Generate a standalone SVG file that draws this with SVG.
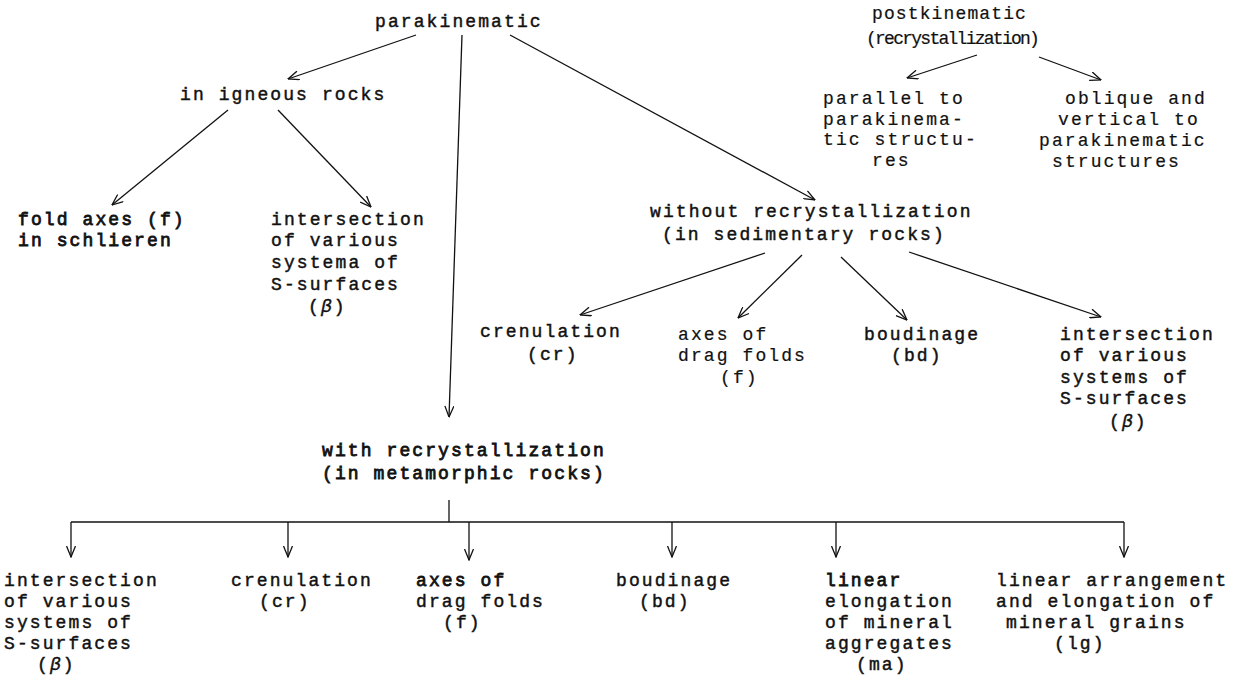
<svg xmlns="http://www.w3.org/2000/svg" width="1247" height="675" viewBox="0 0 1247 675">
<style>
text{font-family:"Liberation Mono","DejaVu Sans Mono",monospace;font-size:18px;letter-spacing:2.1px;fill:#111;stroke:#111;stroke-width:0.45px}
.b{stroke-width:0.8px}
.l{stroke-width:0.2px}
.g{font-style:italic}
#connectors line{stroke:#111;stroke-width:1.3;fill:none}
</style>
<defs>
<marker id="ah" viewBox="0 0 12 10" refX="11.5" refY="5" markerWidth="12" markerHeight="10" markerUnits="userSpaceOnUse" orient="auto">
<path d="M0.5,0.5 L11.5,5 L0.5,9.5" fill="none" stroke="#111" stroke-width="1.3"/>
</marker>
</defs>
<rect width="1247" height="675" fill="#fff"/>
<g id="connectors">
<line x1="416" y1="35" x2="288" y2="79" marker-end="url(#ah)"/>
<line x1="462" y1="35" x2="449" y2="417" marker-end="url(#ah)"/>
<line x1="510" y1="35" x2="815" y2="200" marker-end="url(#ah)"/>
<line x1="228" y1="110" x2="112" y2="205" marker-end="url(#ah)"/>
<line x1="278" y1="110" x2="371" y2="207" marker-end="url(#ah)"/>
<line x1="977" y1="55" x2="907" y2="78" marker-end="url(#ah)"/>
<line x1="1039" y1="57" x2="1101" y2="80" marker-end="url(#ah)"/>
<line x1="765" y1="253" x2="580" y2="315" marker-end="url(#ah)"/>
<line x1="802" y1="255" x2="738" y2="318" marker-end="url(#ah)"/>
<line x1="841" y1="257" x2="907" y2="320" marker-end="url(#ah)"/>
<line x1="909" y1="252" x2="1101" y2="317" marker-end="url(#ah)"/>
<line x1="449" y1="500" x2="449" y2="522"/>
<line x1="71" y1="522" x2="1124" y2="522"/>
<line x1="71" y1="522" x2="71" y2="557" marker-end="url(#ah)"/>
<line x1="288" y1="522" x2="288" y2="557" marker-end="url(#ah)"/>
<line x1="469" y1="522" x2="469" y2="560" marker-end="url(#ah)"/>
<line x1="672" y1="522" x2="672" y2="557" marker-end="url(#ah)"/>
<line x1="836" y1="522" x2="836" y2="557" marker-end="url(#ah)"/>
<line x1="1124" y1="522" x2="1124" y2="557" marker-end="url(#ah)"/>
</g>
<g id="parakinematic"><text x="375" y="27">parakinematic</text></g>
<g id="postkinematic">
<text class="l" x="872" y="19" textLength="156">postkinematic</text>
<text class="l" x="866" y="44" textLength="176">(recrystallization)</text>
</g>
<g id="igneous"><text x="180" y="100">in igneous rocks</text></g>
<g id="parallel">
<text class="l" x="823" y="104">parallel to</text>
<text class="l" x="823" y="125">parakinema-</text>
<text class="l" x="823" y="145">tic structu-</text>
<text class="l" x="872" y="166">res</text>
</g>
<g id="oblique">
<text class="l" x="1065" y="104">oblique and</text>
<text class="l" x="1058" y="125">vertical to</text>
<text class="l" x="1039" y="146">parakinematic</text>
<text class="l" x="1052" y="167">structures</text>
</g>
<g id="fold-axes">
<text class="b" x="18" y="225">fold axes (f)</text>
<text class="b" x="18" y="246">in schlieren</text>
</g>
<g id="intersection-igneous">
<text x="271" y="225">intersection</text>
<text x="271" y="246">of various</text>
<text x="271" y="268">systema of</text>
<text x="271" y="290">S-surfaces</text>
<text x="308" y="312">(<tspan class="g">β</tspan>)</text>
</g>
<g id="without">
<text x="650" y="217">without recrystallization</text>
<text x="662" y="240">(in sedimentary rocks)</text>
</g>
<g id="crenulation-sed">
<text x="480" y="337">crenulation</text>
<text x="527" y="360">(cr)</text>
</g>
<g id="drag-folds-sed">
<text class="l" x="678" y="340">axes of</text>
<text class="l" x="678" y="361">drag folds</text>
<text class="l" x="720" y="383">(f)</text>
</g>
<g id="boudinage-sed">
<text x="864" y="340">boudinage</text>
<text x="891" y="361">(bd)</text>
</g>
<g id="intersection-sed">
<text x="1060" y="340">intersection</text>
<text x="1060" y="361">of various</text>
<text x="1060" y="383">systems of</text>
<text x="1060" y="404">S-surfaces</text>
<text x="1109" y="427">(<tspan class="g">β</tspan>)</text>
</g>
<g id="with">
<text class="b" x="322" y="456">with recrystallization</text>
<text class="b" x="322" y="479">(in metamorphic rocks)</text>
</g>
<g id="intersection-met">
<text x="4" y="586">intersection</text>
<text x="4" y="607">of various</text>
<text x="4" y="628">systems of</text>
<text x="4" y="649">S-surfaces</text>
<text x="37" y="670">(<tspan class="g">β</tspan>)</text>
</g>
<g id="crenulation-met">
<text x="231" y="586">crenulation</text>
<text x="259" y="607">(cr)</text>
</g>
<g id="drag-folds-met">
<text class="b" x="416" y="586">axes of</text>
<text x="416" y="607">drag folds</text>
<text x="443" y="628">(f)</text>
</g>
<g id="boudinage-met">
<text x="616" y="586">boudinage</text>
<text x="639" y="607">(bd)</text>
</g>
<g id="mineral-aggregates">
<text class="b" x="825" y="586">linear</text>
<text x="825" y="607">elongation</text>
<text x="825" y="628">of mineral</text>
<text x="825" y="649">aggregates</text>
<text x="856" y="670">(ma)</text>
</g>
<g id="mineral-grains">
<text x="996" y="586">linear arrangement</text>
<text x="996" y="607">and elongation of</text>
<text x="1006" y="628">mineral grains</text>
<text x="1054" y="649">(lg)</text>
</g>
</svg>
